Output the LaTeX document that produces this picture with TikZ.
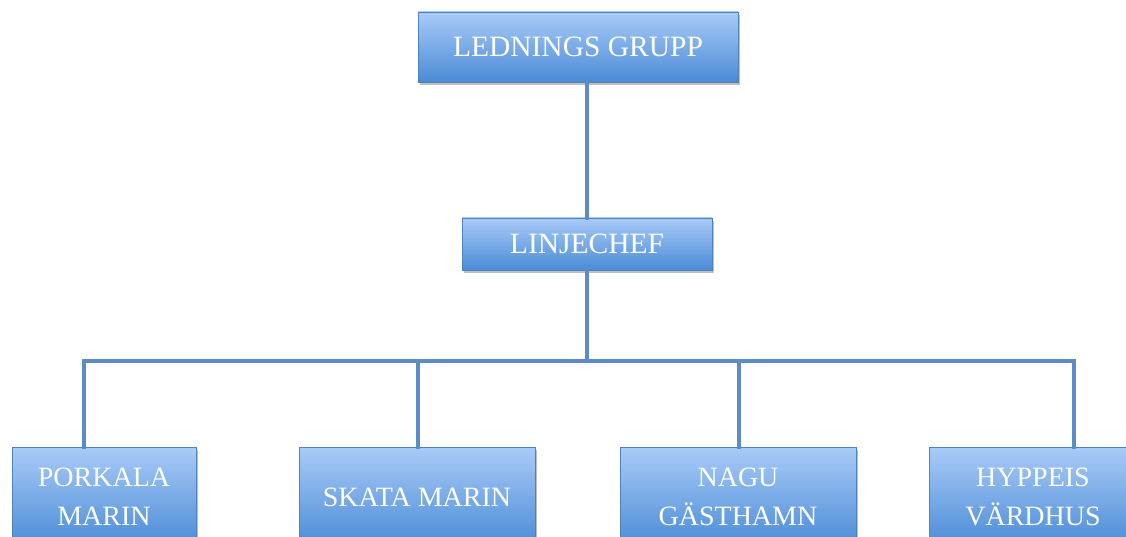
\documentclass[tikz,border=0pt]{standalone}
\usepackage{fontspec}
\setmainfont{Liberation Serif}
\usetikzlibrary{shadows}
\definecolor{boxtop}{HTML}{A9CBF8}
\definecolor{boxbot}{HTML}{4A8BD6}
\definecolor{boxline}{HTML}{4F81BD}
\definecolor{connc}{HTML}{5B8CC5}
\tikzset{
  orgbox/.style={draw=boxline, line width=0.8pt, top color=boxtop, bottom color=boxbot,
    drop shadow={shadow xshift=2pt, shadow yshift=-3pt, opacity=0.5, fill=black!50},
    text=white, align=center, inner sep=0pt, anchor=center},
  bigtext/.style={font=\fontsize{29.5}{36}\selectfont},
  smalltext/.style={font=\fontsize{28}{39}\selectfont},
  conn/.style={draw=connc, line width=4pt, line cap=rect},
}
\begin{document}
\begin{tikzpicture}[x=1pt,y=-1pt]
\useasboundingbox (0,0) rectangle (1126,537);
\clip (0,0) rectangle (1126,537);
\fill[white] (0,0) rectangle (1126,537);
% nodes
\node[orgbox,bigtext,minimum width=320pt,minimum height=70pt] (top) at (578,47) {LEDNINGS GRUPP};
\node[orgbox,bigtext,minimum width=250pt,minimum height=52pt] (linje) at (587,244) {LINJECHEF};
\coordinate (bus) at (587,361);
\coordinate (dpk) at (84,361);
\coordinate (dsk) at (418,361);
\coordinate (dna) at (739,361);
\coordinate (dhy) at (1074,361);
% connectors
\draw[conn] (top.south -| linje.north) -- (linje.north);
\draw[conn] (linje.south) -- (bus);
\draw[conn] (dpk) -- (dhy);
\node[orgbox,smalltext,minimum width=184pt,minimum height=100pt] (pk) at (104,497) {PORKALA\\MARIN};
\node[orgbox,smalltext,minimum width=236pt,minimum height=100pt] (sk) at (417,497) {SKATA MARIN};
\node[orgbox,smalltext,minimum width=236pt,minimum height=100pt] (na) at (738,497) {NAGU\\GÄSTHAMN};
\node[orgbox,smalltext,minimum width=208pt,minimum height=100pt] (hy) at (1033,497) {HYPPEIS\\VÄRDHUS};
\draw[conn] (dpk) -- (dpk |- pk.north);
\draw[conn] (dsk) -- (dsk |- sk.north);
\draw[conn] (dna) -- (dna |- na.north);
\draw[conn] (dhy) -- (dhy |- hy.north);
\end{tikzpicture}
\end{document}
